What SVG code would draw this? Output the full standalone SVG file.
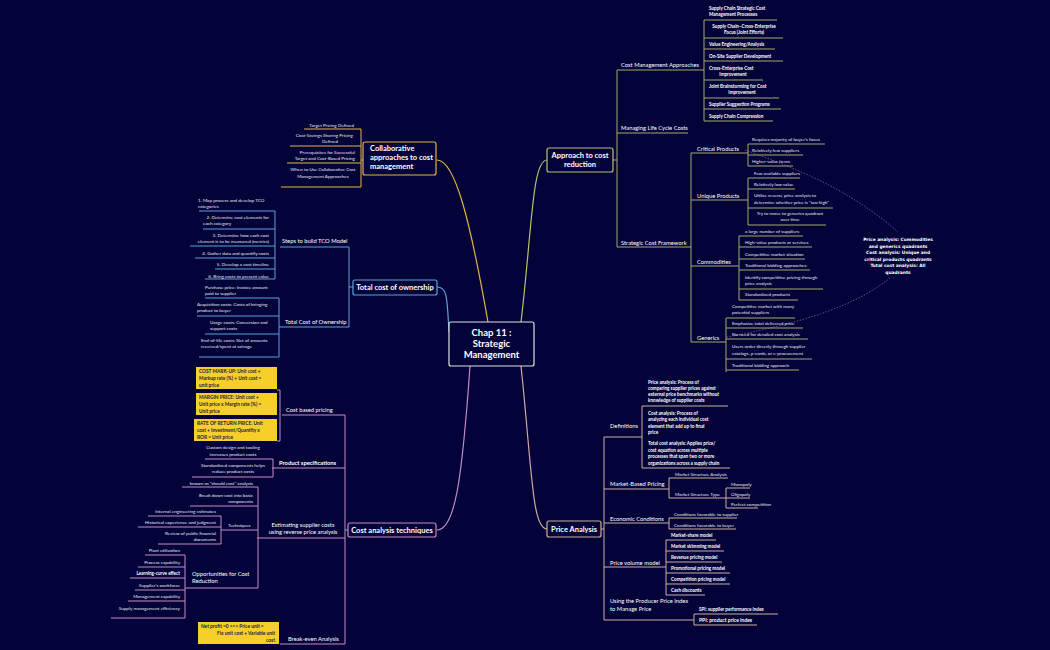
<svg xmlns="http://www.w3.org/2000/svg" width="1050" height="650" viewBox="0 0 1050 650">
<style>
text{font-family:Lato,"Open Sans",sans-serif;fill:#fff}
.s{font-size:4.6px;fill:#e8e8f0}
.sb{font-size:4.6px;font-weight:bold}
.m{font-size:5.8px}
.b{font-size:7.5px;font-weight:bold}
.y{font-size:4.8px;font-weight:bold;fill:#1a1a40}
.o{fill:none;stroke:#a8a868;stroke-width:1}
.p{fill:none;stroke:#cfae9c;stroke-width:1}
.g{fill:none;stroke:#e2b444;stroke-width:1}
.t{fill:none;stroke:#5aa4dc;stroke-width:1}
.k{fill:none;stroke:#c48cc0;stroke-width:1}
.box{fill:#03033a;stroke-width:1.2}
.yb{fill:#f7cf2a}
</style>
<rect width="1050" height="650" fill="#03033a"/>
<g id="connectors">
<path d="M521 322 C532 230 532 160 547 160" stroke="#b8c070" fill="none" stroke-width="1.2"/>
<path d="M521 366 C532 470 532 529 547 529" stroke="#d0a8a0" fill="none" stroke-width="1.2"/>
<path d="M488 322 C470 220 455 160 437 160" stroke="#e2b444" fill="none" stroke-width="1.2"/>
<path d="M449 332 C447 300 448 287 437 287" stroke="#5aa4dc" fill="none" stroke-width="1.2"/>
<path d="M470 366 C462 480 455 530 437 530" stroke="#c48cc0" fill="none" stroke-width="1.2"/>
<path d="M745 150 C800 170 850 190 898 232" stroke="#a060a0" fill="none" stroke-width="0.7" stroke-dasharray="1.5,1.5"/>
<path d="M890 278 C850 310 790 325 727 337" stroke="#a060a0" fill="none" stroke-width="0.7" stroke-dasharray="1.5,1.5"/>
</g>
<g id="center"><rect x="449" y="322" width="85" height="44" rx="2" class="box" stroke="#e0e0e0"/>
<text x="491.5" y="336" text-anchor="middle" style="font-size:9.5px;font-weight:bold">Chap 11 :</text>
<text x="491.5" y="347" text-anchor="middle" style="font-size:9.5px;font-weight:bold">Strategic</text>
<text x="491.5" y="358" text-anchor="middle" style="font-size:9.5px;font-weight:bold">Management</text></g>

<g id="approach"><rect x="547" y="148" width="66" height="24" rx="2" class="box" stroke="#b8c070"/>
<text x="580" y="158" text-anchor="middle" class="b">Approach to cost</text><text x="580" y="167" text-anchor="middle" class="b">reduction</text>
<path class="o" d="M613 160 H617 M617 70 V247 M617 70 H697 M617 133 H688 M617 247 H690"/>
<text x="621" y="67" class="m">Cost Management Approaches</text>
<text x="621" y="130" class="m">Managing Life Cycle Costs</text>
<text x="621" y="245" class="m">Strategic Cost Framework</text>
<path class="o" d="M697 70 H704 M704 20 V121 M704 20 H777 M704 38 H783 M704 49 H775 M704 61 H783 M704 80 H763 M704 98 H779 M704 109 H781 M704 121 H773"/>
<text x="709" y="10" class="sb">Supply Chain Strategic Cost</text><text x="709" y="16" class="sb">Management Processes</text>
<text x="744" y="28" text-anchor="middle" class="sb">Supply Chain–Cross-Enterprise</text><text x="744" y="34" text-anchor="middle" class="sb">Focus (Joint Efforts)</text>
<text x="709" y="46" class="sb">Value Engineering/Analysis</text>
<text x="709" y="58" class="sb">On-Site Supplier Development</text>
<text x="709" y="70" class="sb">Cross-Enterprise Cost</text><text x="733" y="76" text-anchor="middle" class="sb">Improvement</text>
<text x="709" y="88" class="sb">Joint Brainstorming for Cost</text><text x="742" y="94" text-anchor="middle" class="sb">Improvement</text>
<text x="709" y="106" class="sb">Supplier Suggestion Programs</text>
<text x="709" y="118" class="sb">Supply Chain Compression</text>
<path class="o" d="M690 247 H691 M691 153 V342 M691 153 H745 M691 200 H745 M691 266 H735 M691 342 H723"/>
<text x="697" y="151" class="m">Critical Products</text>
<text x="697" y="198" class="m">Unique Products</text>
<text x="697" y="264" class="m">Commodities</text>
<text x="697" y="340" class="m">Generics</text>
<path class="o" d="M745 153 H748 M748 144 V166 M748 144 H825 M748 155 H803 M748 166 H793"/>
<text x="752" y="141" class="s">Requires majority of buyer's focus</text>
<text x="752" y="152" class="s">Relatively few suppliers</text>
<text x="752" y="163" class="s">Higher-value items</text>
<path class="o" d="M745 200 H748 M748 178 V225 M748 178 H800 M748 189 H795 M748 208 H833 M748 225 H826"/>
<text x="754" y="175" class="s">Few available suppliers</text>
<text x="754" y="186" class="s">Relatively low value</text>
<text x="754" y="197" class="s">Utilize reverse price analysis to</text><text x="754" y="204" class="s">determine whether price is "too high"</text>
<text x="790" y="215" text-anchor="middle" class="s">Try to move to generics quadrant</text><text x="790" y="221" text-anchor="middle" class="s">over time</text>
<path class="o" d="M735 266 H739 M739 236 V300 M739 236 H803 M739 247 H812 M739 259 H805 M739 270 H810 M739 289 H823 M739 300 H798"/>
<text x="745" y="233" class="s">a large number of suppliers</text>
<text x="745" y="244" class="s">High-value products or services</text>
<text x="745" y="256" class="s">Competitive market situation</text>
<text x="745" y="267" class="s">Traditional bidding approaches</text>
<text x="745" y="279" class="s">Identify competitive pricing through</text><text x="745" y="285" class="s">price analysis</text>
<text x="745" y="296" class="s">Standardized products</text>
<path class="o" d="M723 342 H726 M726 318 V372 M726 318 H795 M726 328 H803 M726 339 H808 M726 359 H812 M726 370 H799"/>
<text x="732" y="308" class="s">Competitive market with many</text><text x="732" y="314" class="s">potential suppliers</text>
<text x="732" y="325" class="s">Emphasize total delivered price</text>
<text x="732" y="336" class="s">No need for detailed cost analysis</text>
<text x="732" y="348" class="s">Users order directly through supplier</text><text x="732" y="355" class="s">catalogs, p-cards, or e-procurement</text>
<text x="732" y="367" class="s">Traditional bidding approach</text>
</g>
<g id="note" style="font-family:'DejaVu Sans Mono',monospace">
<text x="898" y="241" text-anchor="middle" class="sb" style="font-family:'DejaVu Sans',sans-serif;font-size:4.4px">Price analysis: Commodities</text>
<text x="898" y="248" text-anchor="middle" class="sb" style="font-family:'DejaVu Sans',sans-serif;font-size:4.4px">and generics quadrants</text>
<text x="898" y="254" text-anchor="middle" class="sb" style="font-family:'DejaVu Sans',sans-serif;font-size:4.4px">Cost analysis: Unique and</text>
<text x="898" y="261" text-anchor="middle" class="sb" style="font-family:'DejaVu Sans',sans-serif;font-size:4.4px">critical products quadrants</text>
<text x="898" y="267" text-anchor="middle" class="sb" style="font-family:'DejaVu Sans',sans-serif;font-size:4.4px">Total cost analysis: All</text>
<text x="898" y="274" text-anchor="middle" class="sb" style="font-family:'DejaVu Sans',sans-serif;font-size:4.4px">quadrants</text>
</g>

<g id="price"><rect x="547" y="521" width="54" height="16" rx="2" class="box" stroke="#cfae9c"/>
<text x="574" y="532" text-anchor="middle" class="b">Price Analysis</text>
<path class="p" d="M601 529 H604 M604 437 V620 M604 437 H642 M604 489 H668 M604 523 H668 M604 567 H666 M604 620 H694"/>
<text x="610" y="428" class="m">Definitions</text>
<text x="610" y="486" class="m">Market-Based Pricing</text>
<text x="610" y="521" class="m">Economic Conditions</text>
<text x="610" y="565" class="m">Price volume model</text>
<text x="610" y="603" class="m">Using the Producer Price Index</text><text x="610" y="611" class="m">to Manage Price</text>
<path class="p" d="M642 406 V468 M642 406 H728 M642 468 H730"/>
<text x="648" y="384" class="sb">Price analysis: Process of</text><text x="648" y="390" class="sb">comparing supplier prices against</text><text x="648" y="396" class="sb">external price benchmarks without</text><text x="648" y="402" class="sb">knowledge of supplier costs</text>
<text x="648" y="415" class="sb"> Cost analysis: Process of</text><text x="648" y="421" class="sb">analyzing each individual cost</text><text x="648" y="428" class="sb">element that add up to final</text><text x="648" y="434" class="sb">price</text>
<text x="648" y="445" class="sb">Total cost analysis: Applies price/</text><text x="648" y="452" class="sb">cost equation across multiple</text><text x="648" y="458" class="sb">processes that span two or more</text><text x="648" y="465" class="sb">organizations across a supply chain</text>
<path class="p" d="M668 489 H669 M669 478 V498 M669 478 H728 M669 498 H726 M726 488 V508 M726 488 H750 M726 498 H750 M726 508 H758"/>
<text x="675" y="476" class="s">Market Structure Analysis</text>
<text x="675" y="496" class="s">Market Structure Type</text>
<text x="731" y="486" class="s">Monopoly</text>
<text x="731" y="496" class="s">Oligopoly</text>
<text x="731" y="506" class="s">Perfect competition</text>
<path class="p" d="M668 523 H669 M669 518 V529 M669 518 H737 M669 529 H736"/>
<text x="674" y="516" class="s">Conditions favorable to supplier</text>
<text x="674" y="527" class="s">Conditions favorable to buyer</text>
<path class="p" d="M666 540 V595 M666 540 H716 M666 551 H724 M666 562 H722 M666 573 H730 M666 584 H730 M666 595 H705"/>
<text x="671" y="537" class="sb">Market-share model</text>
<text x="671" y="548" class="sb">Market skimming model</text>
<text x="671" y="559" class="sb">Revenue pricing model</text>
<text x="671" y="570" class="sb">Promotional pricing model</text>
<text x="671" y="581" class="sb">Competition pricing model</text>
<text x="671" y="592" class="sb">Cash discounts</text>
<path class="p" d="M694 614 V625 M694 614 H778 M694 625 H757"/>
<text x="699" y="611" class="sb">SPI:  supplier performance index</text>
<text x="699" y="622" class="sb" style="font-size:5px">PPI: product price index</text>
</g>

<g id="collab"><rect x="363" y="142" width="73" height="33" rx="2" class="box" stroke="#e2b444"/>
<text x="370" y="151" class="b">Collaborative</text><text x="370" y="160" class="b">approaches to cost</text><text x="370" y="169" class="b">management</text>
<path class="g" d="M363 160 H361 M361 129 V187 M304 129 H361 M290 146 H361 M287 163 H361 M281 187 H361"/>
<text x="354" y="127" text-anchor="end" class="s">Target Pricing Defined</text>
<text x="353" y="137" text-anchor="end" class="s">Cost-Savings Sharing Pricing</text><text x="330" y="143" text-anchor="middle" class="s">Defined</text>
<text x="355" y="154" text-anchor="end" class="s">Prerequisites for Successful</text><text x="355" y="160" text-anchor="end" class="s">Target and Cost-Based Pricing</text>
<text x="323" y="171" text-anchor="middle" class="s">When to Use Collaborative Cost</text><text x="323" y="178" text-anchor="middle" class="s">Management Approaches</text>
</g>

<g id="tco"><rect x="353" y="280" width="84" height="15" rx="2" class="box" stroke="#5aa4dc"/>
<text x="395" y="290" text-anchor="middle" class="b">Total cost of ownership</text>
<path class="t" d="M353 287 H349 M349 247 V327 M280 247 H349 M279 327 H349"/>
<text x="282" y="243" class="m">Steps to build TCO Model</text>
<text x="285" y="324" class="m">Total Cost of Ownership</text>
<path class="t" d="M275 211 V279 M199 211 H275 M203 229 H275 M190 246 H275 M195 258 H275 M215 269 H275 M205 279 H275"/>
<text x="198" y="202" class="s">1. Map process and develop TCO</text><text x="198" y="208" class="s">categories</text>
<text x="269" y="219" text-anchor="end" class="s">2. Determine cost elements for</text><text x="203" y="225" class="s">each category</text>
<text x="269" y="237" text-anchor="end" class="s">3. Determine how each cost</text><text x="269" y="243" text-anchor="end" class="s">element is to be measured (metrics)</text>
<text x="269" y="255" text-anchor="end" class="s">4. Gather data and quantify costs</text>
<text x="269" y="266" text-anchor="end" class="s">5. Develop a cost timeline</text>
<text x="269" y="278" text-anchor="end" class="s">6. Bring costs to present value</text>
<path class="t" d="M279 298 V357 M205 298 H279 M197 316 H279 M205 334 H279 M199 357 H279"/>
<text x="205" y="289" class="s">Purchase price: Invoice amount</text><text x="205" y="295" class="s">paid to supplier</text>
<text x="197" y="306" class="s">Acquisition costs: Costs of bringing</text><text x="197" y="312" class="s">product to buyer</text>
<text x="210" y="324" class="s">Usage costs: Conversion and</text><text x="210" y="330" class="s">support costs</text>
<text x="201" y="342" class="s">End-of-life costs: Net of amounts</text><text x="201" y="348" class="s">received/spent at salvage</text>
</g>

<g id="costanalysis"><rect x="348" y="523" width="88" height="14" rx="2" class="box" stroke="#c48cc0"/>
<text x="392" y="532.5" text-anchor="middle" class="b">Cost analysis techniques</text>
<path class="k" d="M348 530 H345 M345 415 V644 M282 415 H345 M272 468 H345 M257 538 H345 M280 644 H345"/>
<text x="286" y="412" class="m">Cost based pricing</text>
<text x="279" y="465" class="m" style="font-weight:bold">Product specifications</text>
<text x="303" y="527" text-anchor="middle" class="m">Estimating supplier costs</text><text x="303" y="534" text-anchor="middle" class="m">using reverse price analysis</text>
<text x="288" y="641" class="m">Break-even Analysis</text>
<path class="k" d="M277 390 H280 V441 H277"/>
<rect x="196" y="367" width="81" height="22" class="yb"/><rect x="196" y="393" width="81" height="22" class="yb"/><rect x="194" y="419" width="83" height="22" class="yb"/>
<text x="199" y="373" class="y">COST MARK-UP:  Unit cost +</text><text x="199" y="380" class="y">Markup rate (%) + Unit cost =</text><text x="199" y="387" class="y">unit price</text>
<text x="199" y="399" class="y">MARGIN PRICE: Unit cost +</text><text x="199" y="406" class="y">Unit price x Margin rate (%) =</text><text x="199" y="413" class="y">Unit price</text>
<text x="197" y="425" class="y">RATE OF RETURN PRICE: Unit</text><text x="197" y="432" class="y">cost + Investment/Quantity  x</text><text x="197" y="439" class="y">ROR = Unit price</text>
<path class="k" d="M273 459 V477 M205 459 H273 M192 477 H273"/>
<text x="233" y="449" text-anchor="middle" class="s">Custom design and tooling</text><text x="233" y="456" text-anchor="middle" class="s">increases  product costs</text>
<text x="233" y="467" text-anchor="middle" class="s">Standardized components helps</text><text x="233" y="473" text-anchor="middle" class="s">reduce product costs</text>
<path class="k" d="M258 487 V588 M182 487 H258 M190 506 H258 M221 530 H258 M185 588 H258"/>
<text x="253" y="485" text-anchor="end" class="s">known as "should cost" analysis</text>
<text x="253" y="497" text-anchor="end" class="s">Break down cost into basic</text><text x="253" y="503" text-anchor="end" class="s">components</text>
<text x="228" y="527" class="s">Techniques</text>
<text x="192" y="576" class="m">Opportunities for Cost</text><text x="192" y="583" class="m">Reduction</text>
<path class="k" d="M221 516 V544 M148 516 H221 M138 527 H221 M158 544 H221"/>
<text x="216" y="513" text-anchor="end" class="s">Internal engineering estimates</text>
<text x="216" y="524" text-anchor="end" class="s">Historical experience and judgment</text>
<text x="216" y="535" text-anchor="end" class="s">Review of public financial</text><text x="216" y="541" text-anchor="end" class="s">documents</text>
<path class="k" d="M185 555 V618 M145 555 H185 M138 567 H185 M130 578 H185 M135 590 H185 M128 601 H185 M111 618 H185"/>
<text x="180" y="552" text-anchor="end" class="s">Plant utilization</text>
<text x="180" y="564" text-anchor="end" class="s">Process capability</text>
<text x="180" y="575" text-anchor="end" class="sb">Learning-curve effect</text>
<text x="180" y="587" text-anchor="end" class="s">Supplier's workforce</text>
<text x="180" y="598" text-anchor="end" class="s">Management capability</text>
<text x="180" y="610" text-anchor="end" class="s">Supply management efficiency</text>
<rect x="198" y="622" width="81" height="22" class="yb"/>
<text x="201" y="628" class="y">Net profit =0 &lt;=&gt; Price unit =</text><text x="275" y="635" text-anchor="end" class="y">Fix unit cost +  Variable unit</text><text x="275" y="642" text-anchor="end" class="y">cost</text>
</g>
</svg>
